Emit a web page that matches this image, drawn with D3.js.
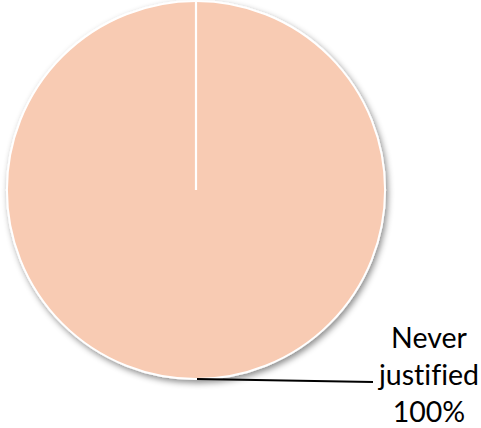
<!DOCTYPE html>
<html><head><meta charset="utf-8">
<script src="https://cdn.jsdelivr.net/npm/d3@7"></script>
<style>html,body{margin:0;padding:0;background:#fff;}svg{display:block;}</style>
</head><body>
<svg id="chart" width="481" height="428"></svg>
<script>
const categories = ["Never justified"];
const values = [100];
const labels = ["100%"];

const W = 481, H = 428;
const cx = 196, cy = 190, R = 189;
const svg = d3.select("#chart");
const defs = svg.append("defs");
const f = defs.append("filter").attr("id","sh").attr("x","-10%").attr("y","-10%").attr("width","125%").attr("height","125%");
f.append("feDropShadow").attr("dx",2).attr("dy",3).attr("stdDeviation",3).attr("flood-color","#000").attr("flood-opacity",0.45);

const color = d3.scaleOrdinal().domain(categories).range(["#F8CBB3"]);
const pie = d3.pie().sort(null).value(d => d.v);
const arcs = pie(categories.map((c,i)=>({c, v: values[i], l: labels[i]})));
const arc = d3.arc().innerRadius(0).outerRadius(R);

const g = svg.append("g").attr("transform", `translate(${cx},${cy})`);
g.selectAll("path.slice").data(arcs).enter().append("path")
  .attr("class","slice")
  .attr("d", arc)
  .attr("fill", d => color(d.data.c))
  .attr("stroke", "#fff").attr("stroke-width", 2)
  .attr("filter","url(#sh)");
// slice seam (radial edge)
g.selectAll("line.seam").data(arcs).enter().append("line")
  .attr("x1",0).attr("y1",0)
  .attr("x2", d => R*Math.sin(d.startAngle))
  .attr("y2", d => -R*Math.cos(d.startAngle))
  .attr("stroke","#fff").attr("stroke-width",2.2);

// labels
const lx = 429, ly = 348, lh = 37;
arcs.forEach(d => {
  const mid = (d.startAngle + d.endAngle)/2;
  const px = cx + R*Math.sin(mid), py = cy - R*Math.cos(mid);
  svg.append("line").attr("x1", px+1).attr("y1", py).attr("x2", lx-56).attr("y2", ly+34)
    .attr("stroke","#000").attr("stroke-width",2);
  const words = d.data.c.split(" ").concat([d.data.l]);
  const t = svg.append("text").attr("text-anchor","middle")
    .attr("font-family","Lato, 'Open Sans', sans-serif").attr("font-size",28.5).attr("fill","#000")
    .style("font-variant-ligatures","none").style("font-feature-settings","'liga' 0");
  words.forEach((w,i)=> t.append("tspan").attr("x", lx).attr("y", ly + i*lh).text(w));
});
</script>
</body></html>
